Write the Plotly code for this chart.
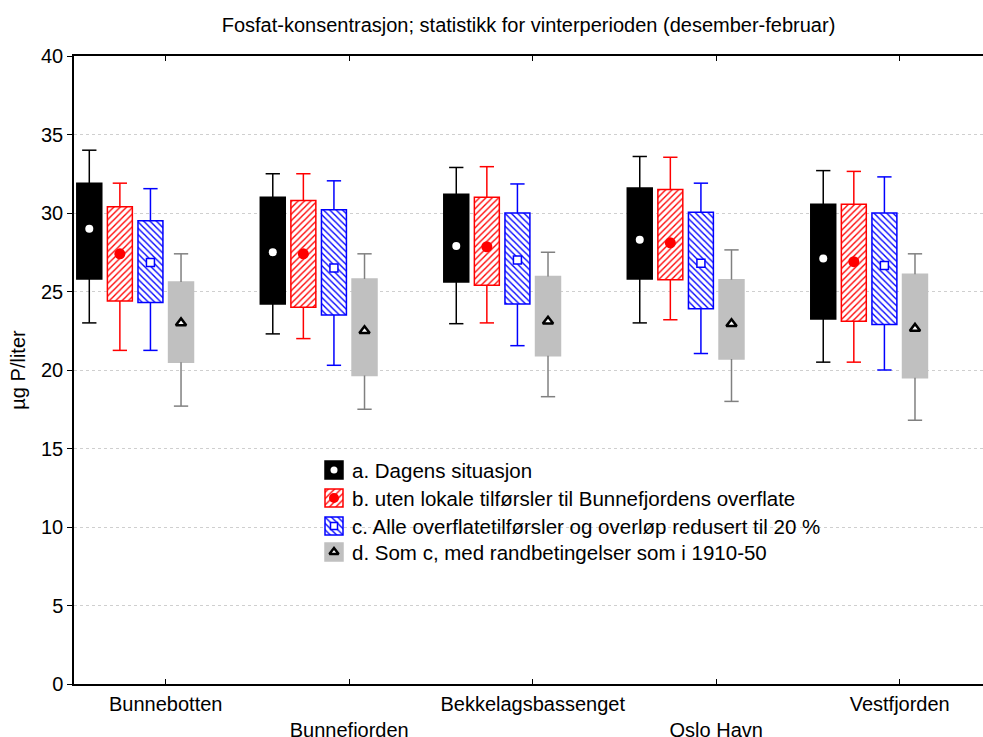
import plotly.graph_objects as go

# Sites along the fjord
sites = ["Bunnebotten", "Bunnefjorden", "Bekkelagsbassenget", "Oslo Havn", "Vestfjorden"]

# Scenario labels
scenario_labels = [
    "a. Dagens situasjon",
    "b. uten lokale tilførsler til Bunnefjordens overflate",
    "c. Alle overflatetilførsler og overløp redusert til 20 %",
    "d. Som c, med randbetingelser som i 1910-50",
]

# Winter statistics (µg P/liter) per scenario: whisker low, Q1, centre, Q3, whisker high
a_low = [23.0, 22.3, 22.95, 23.0, 20.5]
a_q1 = [25.8, 24.2, 25.6, 25.8, 23.25]
a_mid = [29.0, 27.5, 27.9, 28.3, 27.1]
a_q3 = [31.9, 31.0, 31.2, 31.6, 30.55]
a_high = [34.0, 32.5, 32.9, 33.6, 32.7]

b_low = [21.25, 22.0, 23.0, 23.2, 20.5]
b_q1 = [24.4, 24.0, 25.4, 25.75, 23.1]
b_mid = [27.4, 27.4, 27.85, 28.1, 26.9]
b_q3 = [30.4, 30.8, 31.0, 31.5, 30.55]
b_high = [31.9, 32.5, 32.95, 33.55, 32.65]

c_low = [21.25, 20.3, 21.55, 21.05, 20.0]
c_q1 = [24.3, 23.5, 24.2, 23.9, 22.9]
c_mid = [26.85, 26.5, 27.0, 26.8, 26.65]
c_q3 = [29.5, 30.2, 30.0, 30.05, 30.0]
c_high = [31.55, 32.05, 31.85, 31.9, 32.3]

d_low = [17.7, 17.5, 18.3, 18.0, 16.8]
d_q1 = [20.5, 19.65, 20.9, 20.7, 19.5]
d_mid = [23.0, 22.5, 23.1, 22.95, 22.65]
d_q3 = [25.6, 25.8, 25.95, 25.75, 26.1]
d_high = [27.4, 27.4, 27.5, 27.65, 27.4]

y_ticks = [0, 5, 10, 15, 20, 25, 30, 35, 40]

FONT = "Liberation Sans, Arial, sans-serif"

series = [
    dict(low=a_low, q1=a_q1, mid=a_mid, q3=a_q3, high=a_high,
         fill="black", line="black", whisker="black", pattern=None,
         sym="circle", msize=8, mcolor="white", mline="white", mlw=0),
    dict(low=b_low, q1=b_q1, mid=b_mid, q3=b_q3, high=b_high,
         fill="white", line="red", whisker="red", pattern="/",
         sym="circle", msize=11, mcolor="red", mline="red", mlw=0),
    dict(low=c_low, q1=c_q1, mid=c_mid, q3=c_q3, high=c_high,
         fill="white", line="blue", whisker="blue", pattern="\\",
         sym="square", msize=8, mcolor="white", mline="blue", mlw=1.5),
    dict(low=d_low, q1=d_q1, mid=d_mid, q3=d_q3, high=d_high,
         fill="#c0c0c0", line="#c0c0c0", whisker="#808080", pattern=None,
         sym="triangle-up", msize=9, mcolor="white", mline="black", mlw=2.5),
]

n_slots = 6
slot = 1.0 / n_slots
box_w = 0.136
cap = 0.039

fig = go.Figure()

for k, s in enumerate(series):
    off = -0.5 + slot * (k + 0.5)
    xs = [i + 1 + off for i in range(len(sites))]

    # whiskers with caps
    wx, wy = [], []
    for x, lo, q1, q3, hi in zip(xs, s["low"], s["q1"], s["q3"], s["high"]):
        wx += [x, x, None, x - cap, x + cap, None, x, x, None, x - cap, x + cap, None]
        wy += [q3, hi, None, hi, hi, None, q1, lo, None, lo, lo, None]
    fig.add_trace(go.Scatter(x=wx, y=wy, mode="lines",
                             line=dict(color=s["whisker"], width=1.5),
                             hoverinfo="skip", showlegend=False))

    # box body
    marker = dict(color=s["fill"], line=dict(color=s["line"], width=1.5))
    if s["pattern"]:
        marker["pattern"] = dict(shape=s["pattern"], fgcolor=s["line"], bgcolor="white",
                                 size=4.5, solidity=0.3, fillmode="replace")
    fig.add_trace(go.Bar(x=xs, y=[h - l for h, l in zip(s["q3"], s["q1"])], base=s["q1"],
                         width=box_w, marker=marker, showlegend=False))

    # centre marker
    fig.add_trace(go.Scatter(x=xs, y=s["mid"], mode="markers",
                             marker=dict(symbol=s["sym"], size=s["msize"], color=s["mcolor"],
                                         line=dict(color=s["mline"], width=s["mlw"])),
                             showlegend=False))

# Legend drawn on a helper axis measured in pixels from the plot's top-left corner
leg_x = 260
leg_rows = [414, 442, 470, 496]
sw = 18
for k, (s, lab, ry) in enumerate(zip(series, scenario_labels, leg_rows)):
    marker = dict(color=s["fill"], line=dict(color=s["line"], width=1.5))
    if s["pattern"]:
        marker["pattern"] = dict(shape=s["pattern"], fgcolor=s["line"], bgcolor="white",
                                 size=4.5, solidity=0.3, fillmode="replace")
    fig.add_trace(go.Bar(x=[leg_x], y=[sw], base=[ry - sw / 2], width=sw, marker=marker,
                         xaxis="x2", yaxis="y2", showlegend=False, hoverinfo="skip"))
    fig.add_trace(go.Scatter(x=[leg_x], y=[ry], mode="markers",
                             marker=dict(symbol=s["sym"], size=s["msize"] - 1, color=s["mcolor"],
                                         line=dict(color=s["mline"], width=s["mlw"])),
                             xaxis="x2", yaxis="y2", showlegend=False, hoverinfo="skip"))
    fig.add_annotation(x=leg_x + sw / 2 + 7, y=ry, xref="x2", yref="y2", text=lab,
                       showarrow=False, xanchor="left", yanchor="middle",
                       font=dict(size=20.5, color="black", family=FONT))

# staggered category labels
tick_text = [name if i % 2 == 0 else "\u00a0<br>" + name for i, name in enumerate(sites)]

fig.update_layout(
    width=983, height=737,
    margin=dict(l=74, r=0, t=56, b=53),
    paper_bgcolor="white", plot_bgcolor="white",
    barmode="overlay",
    showlegend=False,
    font=dict(family=FONT, color="black", size=20),
    xaxis=dict(range=[0.5, 5.454], tickmode="array", tickvals=list(range(1, len(sites) + 1)),
               ticktext=tick_text, ticks="inside", ticklen=5, tickcolor="black",
               showline=True, linecolor="black", linewidth=1.5, mirror="ticks",
               showgrid=False, zeroline=False, tickfont=dict(size=20), ticklabelstandoff=1,
               automargin=False),
    yaxis=dict(range=[0, 40], tickmode="array", tickvals=y_ticks, ticks="outside",
               ticklen=5, tickcolor="black", showline=True, linecolor="black", linewidth=1.5,
               showgrid=True, gridcolor="#cfcfcf", griddash="dot", gridwidth=1,
               zeroline=False, tickfont=dict(size=20), automargin=False,
               title=dict(text="µg P/liter", font=dict(size=20), standoff=10)),
    xaxis2=dict(range=[0, 909], overlaying="x", visible=False, anchor="y2"),
    yaxis2=dict(range=[628, 0], overlaying="y", visible=False, anchor="x2"),
    title=dict(text="Fosfat-konsentrasjon; statistikk for vinterperioden (desember-februar)",
               x=0.5, xref="paper", xanchor="center", y=1 - 25 / 737, yref="container",
               yanchor="middle", font=dict(size=20, color="black")),
)

fig.write_html("out.html")
